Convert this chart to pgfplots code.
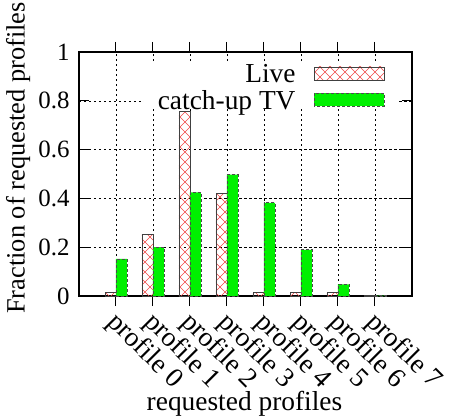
\documentclass[border=0pt]{standalone}
\usepackage{pgfplots}
\pgfplotsset{compat=1.18}
\usepackage{fontspec}
\setmainfont{Liberation Serif}
\usetikzlibrary{patterns}

% diagonal cross-hatch, 10bp cells
\pgfdeclarepatternformonly{diagcross}{\pgfqpoint{-1bp}{-1bp}}{\pgfqpoint{11bp}{11bp}}{\pgfqpoint{10bp}{10bp}}{%
  \pgfsetlinewidth{0.6bp}%
  \pgfpathmoveto{\pgfqpoint{0bp}{0bp}}\pgfpathlineto{\pgfqpoint{10bp}{10bp}}%
  \pgfpathmoveto{\pgfqpoint{0bp}{10bp}}\pgfpathlineto{\pgfqpoint{10bp}{0bp}}%
  \pgfusepath{stroke}}

\definecolor{hatchred}{RGB}{240,70,70}
\definecolor{brightgreen}{RGB}{0,240,0}

\newcommand{\bigfont}{\fontsize{27.5}{31}\selectfont}
\newcommand{\midfont}{\fontsize{26.5}{30}\selectfont}
\newcommand{\tickfont}{\fontsize{25}{29}\selectfont}

\begin{document}
\begin{tikzpicture}
\begin{axis}[
  at={(0,0)}, anchor=south west,
  scale only axis,
  width=333bp, height=244bp,
  xmin=-1, xmax=8,
  ymin=0, ymax=1,
  xtick={0,1,2,3,4,5,6,7},
  xticklabels={profile 0,profile 1,profile 2,profile 3,profile 4,profile 5,profile 6,profile 7},
  ytick={0,0.2,0.4,0.6,0.8,1},
  yticklabels={0,0.2,0.4,0.6,0.8,1},
  tick pos=both,
  tick align=inside,
  major tick length=10bp,
  every tick/.style={black, line width=1bp},
  axis line style={line width=1.4bp},
  grid=major,
  major grid style={black, line width=0.6bp, dash pattern=on 2.5bp off 2.5bp},
  font=\bigfont,
  label style={font=\bigfont},
  /pgf/number format/assume math mode=true,
  xticklabel style={font=\bigfont, rotate=-45, anchor=west, xshift=2bp, yshift=-12bp},
  yticklabel style={font=\tickfont, xshift=-6bp},
  xlabel={requested profiles},
  ylabel={Fraction of requested profiles},
  xlabel style={at={(axis description cs:0.497,-0.443)}, anchor=center},
  ylabel style={font=\midfont, at={(axis description cs:-0.183,0.566)}, anchor=center},
  ybar, bar width=11bp,
  legend style={
    at={(axis description cs:0.955,0.95)}, anchor=north east,
    draw=none, fill=white, font=\bigfont,
    inner xsep=12bp, inner ysep=0bp,
    row sep=7.5bp, column sep=17bp,
    legend cell align=right,
    nodes={inner xsep=1.5bp, inner ysep=0bp, text depth=0pt},
  },
  legend plot pos=right,
]
\addplot[
  bar shift=-5.5bp,
  draw=black!75, line width=0.7bp,
  pattern=diagcross, pattern color=hatchred,
  legend image code/.code={\draw[draw=black!75, line width=0.7bp, pattern=diagcross, pattern color=hatchred] (0bp,-6.5bp) rectangle (70bp,6.5bp);},
] coordinates {
  (0,0.014) (1,0.253) (2,0.758) (3,0.419) (4,0.016) (5,0.016) (6,0.014) (7,0.003)
};
\addlegendentry{Live}
\addplot[
  bar shift=5.5bp,
  fill=brightgreen, draw=black!70, line width=0.8bp,
  dash pattern=on 3bp off 2bp,
  legend image code/.code={\draw[fill=brightgreen, draw=black!70, line width=0.8bp, dash pattern=on 3bp off 2bp] (0bp,-6.5bp) rectangle (70bp,6.5bp);},
] coordinates {
  (0,0.152) (1,0.200) (2,0.425) (3,0.497) (4,0.382) (5,0.189) (6,0.048) (7,0.002)
};
\addlegendentry{catch-up TV}
\end{axis}
\pgfresetboundingbox
\path[use as bounding box] (-79bp,-121bp) rectangle (370bp,296bp);
\end{tikzpicture}
\end{document}
